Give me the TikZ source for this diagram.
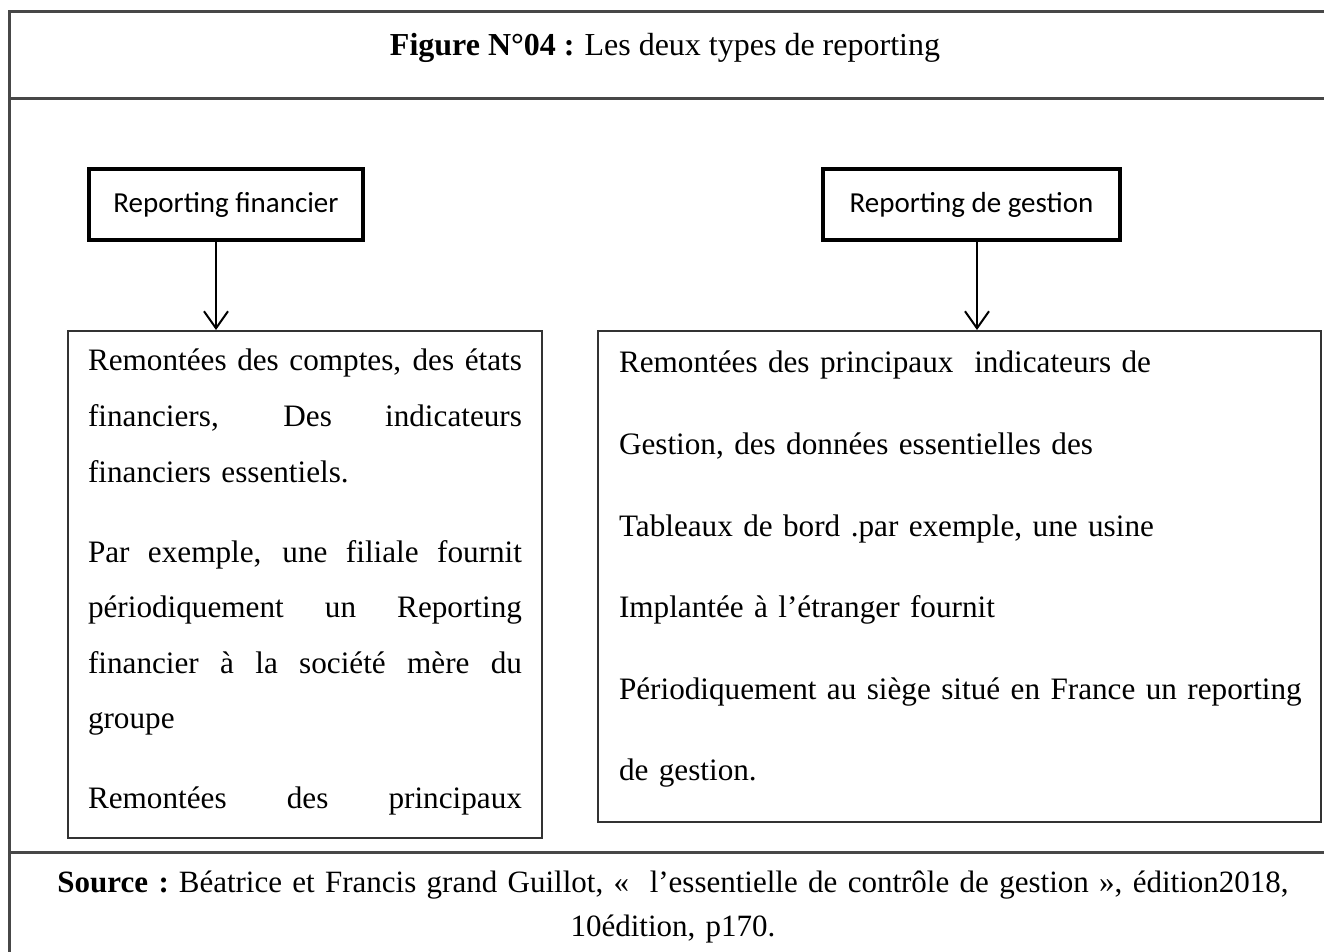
\documentclass[tikz,border=0pt]{standalone}
\usepackage{fontspec}
\setmainfont{Liberation Serif}
\newfontfamily\calibri{Carlito}
\usetikzlibrary{arrows.meta}
\newcommand{\lignej}[1]{\hbox to 217pt{\spaceskip=\fontdimen2\font plus 1fil #1}\par}
\newcommand{\lignel}[1]{\hbox{#1}\par}
\begin{document}
\begin{tikzpicture}[x=0.5pt,y=-0.5pt,
    cadre/.style={line width=1.5pt,draw=black!72},
    entete/.style={draw,line width=2pt,minimum height=35.5pt,font=\calibri\fontsize{14.5pt}{17pt}\selectfont},
    texte/.style={draw=black!80,line width=1pt,anchor=north,inner ysep=0pt,inner xsep=10pt},
    fleche/.style={line width=1pt,-{Straight Barb[length=8.5pt,width=12pt]}}]
    \useasboundingbox (0,0) rectangle (1324,952);
    \fill[white] (0,0) rectangle (1324,952);
    \draw[cadre] (9.5,12) rectangle (1340,1000);
    \draw[cadre] (9.5,99) -- (1340,99);
    \draw[cadre] (9.5,852) -- (1340,852);
    \node[anchor=base,font=\fontsize{16pt}{20pt}\selectfont] (titre) at (665,56) {\textbf{Figure N°04 :}\hspace{5pt}Les deux types de reporting};
    \node[entete,minimum width=137pt] (repfin) at (226,204.5) {Reporting financier};
    \node[entete,minimum width=148.5pt] (repges) at (971.5,204.5) {Reporting de gestion};
    \node[texte,text width=217pt,text height=20pt,text depth=233.5pt,font=\fontsize{15.6pt}{27.8pt}\selectfont] (txtfin) at (305,330) {%
        \lignej{Remontées des comptes, des états}
        \lignej{financiers, Des indicateurs}
        \lignel{financiers essentiels.}
        \vspace{12.2pt}
        \lignej{Par exemple, une filiale fournit}
        \lignej{périodiquement un Reporting}
        \lignej{financier à la société mère du}
        \lignel{groupe}
        \vspace{12.2pt}
        \lignej{Remontées des principaux}};
    \node[texte,text width=340.5pt,inner xsep=10.5pt,text height=21pt,text depth=224.5pt,font=\fontsize{15.6pt}{40.8pt}\selectfont] (txtges) at (959.5,330) {%
        \lignel{Remontées des principaux~ indicateurs de}
        \lignel{Gestion, des données essentielles des}
        \lignel{Tableaux de bord .par exemple, une usine}
        \lignel{Implantée à l’étranger fournit}
        \lignel{Périodiquement au siège situé en France un reporting}
        \lignel{de gestion.}};
    \coordinate (pfin) at ([xshift=-5pt]repfin.south);
    \coordinate (pges) at ([xshift=2.75pt]repges.south);
    \draw[fleche] (pfin) -- (pfin |- txtfin.north);
    \draw[fleche] (pges) -- (pges |- txtges.north);
    \node[anchor=base,text width=650pt,align=center,font=\fontsize{15.5pt}{22pt}\selectfont] (source) at (673,892) {\textbf{Source :}\hspace{5pt}Béatrice et Francis grand Guillot, «~ l’essentielle de contrôle de gestion », édition2018,\\ 10édition, p170.};
\end{tikzpicture}
\end{document}
